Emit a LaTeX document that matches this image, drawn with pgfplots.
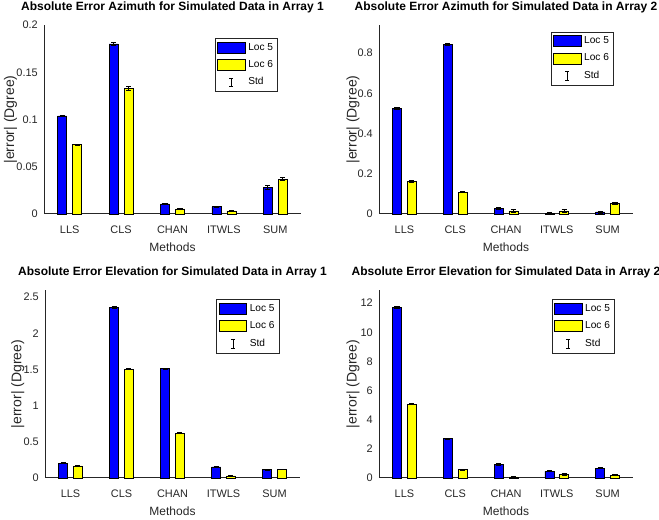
\documentclass[border=0pt]{standalone}
\usepackage{fontspec}
\setmainfont{Liberation Sans}
\usepackage{pgfplots}
\usepackage{pgfplotstable}
\pgfplotsset{compat=1.18}
\definecolor{axgray}{rgb}{0.15,0.15,0.15}
\definecolor{mblue}{rgb}{0,0,1}
\definecolor{myellow}{rgb}{1,1,0}

% x  loc5  std5  loc6  std6
\pgfplotstableread{
x l5 e5 l6 e6
1 0.1037 0.0005 0.0735 0.0005
2 0.1800 0.0020 0.1330 0.0018
3 0.0107 0.0004 0.0054 0.0004
4 0.0076 0.0004 0.0033 0.0004
5 0.0280 0.0018 0.0370 0.0018
}\azA
\pgfplotstableread{
x l5 e5 l6 e6
1 0.525 0.004 0.161 0.004
2 0.845 0.004 0.108 0.003
3 0.028 0.005 0.015 0.006
4 0.003 0.003 0.015 0.006
5 0.010 0.005 0.054 0.006
}\azB
\pgfplotstableread{
x l5 e5 l6 e6
1 0.205 0.008 0.166 0.006
2 2.360 0.015 1.505 0.008
3 1.510 0.010 0.622 0.006
4 0.153 0.006 0.028 0.004
5 0.115 0.005 0.118 0.005
}\elA
\pgfplotstableread{
x l5 e5 l6 e6
1 11.70 0.05 5.07 0.05
2 2.69 0.05 0.57 0.04
3 0.93 0.05 0.07 0.03
4 0.46 0.04 0.25 0.04
5 0.68 0.04 0.19 0.04
}\elB

\pgfplotsset{
  mybase/.style={
    scale only axis,
    axis x line*=bottom, axis y line*=left,
    axis line style={draw=axgray, line width=0.75pt, -},
    xmin=0.5, xmax=5.5, ymin=0,
    xtick={1,2,3,4,5}, xticklabels={LLS,CLS,CHAN,ITWLS,SUM},
    major tick length=0pt, minor tick length=0pt,
    tick label style={font=\fontsize{8.2}{9}\selectfont, text=axgray},
    xticklabel style={anchor=base, yshift=-15pt},
    yticklabel style={anchor=east, inner sep=0pt, xshift=-4.5pt},
    xlabel={Methods}, ylabel={|error| (Dgree)},
    every axis x label/.style={at={(axis description cs:0.5,0)}, anchor=base, yshift=-28.5pt,
      font=\fontsize{9}{10}\selectfont, text=axgray},
    title style={font=\fontsize{9}{10}\selectfont\bfseries, text=black, at={(axis description cs:0.5,1)}, anchor=base, yshift=5pt},
    legend style={draw=axgray, line width=0.5pt, fill=white, anchor=north east,
      font=\fontsize{7.6}{8}\selectfont, text=black, inner xsep=1.5pt, inner ysep=1.5pt,
      row sep=2.2pt, cells={anchor=west},
      /tikz/every even column/.append style={column sep=0pt}},
    clip=false,
  },
  ylab/.style={every axis y label/.style={at={(axis description cs:#1,0.5)}, rotate=90, anchor=center,
      font=\fontsize{10.5}{12}\selectfont, text=axgray}},
  bcommon/.style={ybar, bar width=0.175, bar shift=0, draw=black, line width=0.5pt, forget plot,
    error bars/.cd, y dir=both, y explicit, error bar style={black, line width=0.6pt},
    error mark options={black, rotate=90, mark size=1.9pt, line width=0.6pt}},
  b5/.style={fill=mblue, bcommon},
  b6/.style={fill=myellow, bcommon},
}

\newcommand{\mylegend}{%
  \addlegendimage{legend image code/.code={\draw[fill=mblue, draw=black, line width=0.5pt] (0pt,-4.1pt) rectangle (20.8pt,4.1pt);}}
  \addlegendentry{Loc 5}
  \addlegendimage{legend image code/.code={\draw[fill=myellow, draw=black, line width=0.5pt] (0pt,-4.1pt) rectangle (20.8pt,4.1pt);}}
  \addlegendentry{Loc 6}
  \addlegendimage{legend image code/.code={\draw[black, line width=0.5pt] (10.4pt,-3.2pt) -- (10.4pt,3.2pt) (8.9pt,-3.2pt) -- (11.9pt,-3.2pt) (8.9pt,3.2pt) -- (11.9pt,3.2pt);}}
  \addlegendentry{Std}
}
\newcommand{\mybars}[1]{%
  \addplot[b5] table[x expr=\thisrow{x}-0.146, y=l5, y error=e5] {#1};
  \addplot[b6] table[x expr=\thisrow{x}+0.146, y=l6, y error=e6] {#1};
}

\begin{document}
\begin{tikzpicture}
% Top left
\begin{axis}[mybase, at={(33pt,229.5pt)}, anchor=south west, width=192.75pt, height=141.75pt,
  ymax=0.2, ytick={0,0.05,0.1,0.15,0.2}, yticklabels={0,0.05,0.1,0.15,0.2},
  title={Absolute Error Azimuth for Simulated Data in Array 1},
  ylab=-0.13,
  legend style={at={(rel axis cs:0.911,0.931)}}]
\mybars{\azA}
\mylegend
\end{axis}
% Top right
\begin{axis}[mybase, at={(284.25pt,229.5pt)}, anchor=south west, width=190.5pt, height=141.75pt,
  ymax=0.94, ytick={0,0.2,0.4,0.6,0.8}, yticklabels={0,0.2,0.4,0.6,0.8},
  title={Absolute Error Azimuth for Simulated Data in Array 2},
  ylab=-0.102,
  legend style={at={(rel axis cs:0.925,0.965)}}]
\mybars{\azB}
\mylegend
\end{axis}
% Bottom left
\begin{axis}[mybase, at={(33.75pt,31.5pt)}, anchor=south west, width=191.25pt, height=141pt,
  ymax=2.6, ytick={0,0.5,1,1.5,2,2.5}, yticklabels={0,0.5,1,1.5,2,2.5},
  title={Absolute Error Elevation for Simulated Data in Array 1},
  ylab=-0.107,
  legend style={at={(rel axis cs:0.92,0.95)}}]
\mybars{\elA}
\mylegend
\end{axis}
% Bottom right
\begin{axis}[mybase, at={(284.25pt,31.5pt)}, anchor=south west, width=190.5pt, height=141pt,
  ymax=12.9, ytick={0,2,4,6,8,10,12}, yticklabels={0,2,4,6,8,10,12},
  title={Absolute Error Elevation for Simulated Data in Array 2},
  ylab=-0.102,
  legend style={at={(rel axis cs:0.929,0.95)}}]
\mybars{\elB}
\mylegend
\end{axis}
\pgfresetboundingbox
\useasboundingbox (0,0) rectangle (494.25pt,390pt);
\end{tikzpicture}
\end{document}
